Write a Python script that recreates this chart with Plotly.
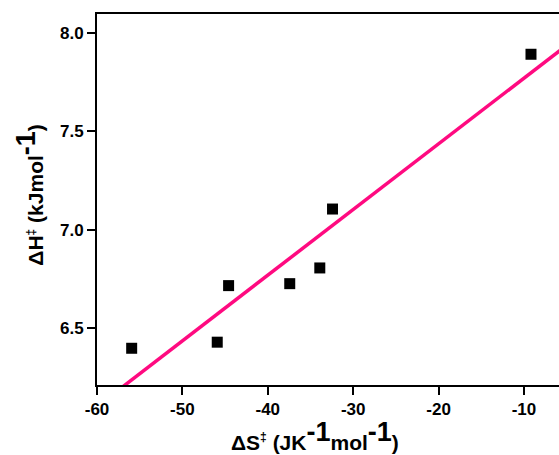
import numpy as np
import plotly.graph_objects as go

dS = [-55.94, -45.92, -44.59, -37.43, -33.91, -32.42, -9.18]
dH = [6.396, 6.427, 6.715, 6.725, 6.805, 7.105, 7.893]

x_ticks = [-60, -50, -40, -30, -20, -10]
y_ticks = [6.5, 7.0, 7.5, 8.0]

slope, intercept = np.polyfit(dS, dH, 1)
fit_x = np.array([-60.0, -5.0])
fit_y = slope * fit_x + intercept

fig = go.Figure()
fig.add_trace(go.Scatter(x=fit_x, y=fit_y, mode="lines",
                         line=dict(color="#FF0A80", width=3.5), showlegend=False))
fig.add_trace(go.Scatter(x=dS, y=dH, mode="markers",
                         marker=dict(symbol="square", size=11, color="black"),
                         showlegend=False))

fnt = dict(family="Liberation Sans, Arial, sans-serif", color="black")
dag = "<sup><span style='font-size:12px'>‡</span></sup>"
m1 = "<sup><span style='font-size:27px'>-1</span></sup>"
fig.update_layout(
    width=559, height=455,
    margin=dict(l=97, r=0, t=14, b=70),
    paper_bgcolor="white", plot_bgcolor="white",
    font=fnt,
    annotations=[
        dict(text=f"<b>ΔS{dag} (JK{m1}mol{m1})</b>", xref="paper", yref="paper",
             x=0.472, y=-0.08, xanchor="center", yanchor="top", showarrow=False,
             font=dict(size=21, **fnt)),
        dict(text=f"<b>ΔH{dag} (kJmol{m1})</b>", xref="paper", yref="paper",
             x=-0.148, y=0.512, xanchor="center", yanchor="middle", showarrow=False,
             textangle=-90, font=dict(size=21, **fnt)),
    ],
)
fig.update_xaxes(
    range=[-60, -5.9], tickvals=x_ticks, ticktext=[f"<b>{v}</b>" for v in x_ticks],
    showgrid=False, zeroline=False, showline=True, linecolor="black", linewidth=2,
    mirror=True, ticks="outside", ticklen=8, tickwidth=2, tickcolor="black",
    tickfont=dict(size=17, **fnt),
)
fig.update_yaxes(
    range=[6.209, 8.098], tickvals=y_ticks, ticktext=[f"<b>{v:.1f}</b>" for v in y_ticks],
    showgrid=False, zeroline=False, showline=True, linecolor="black", linewidth=2,
    mirror=False, ticks="outside", ticklen=8, tickwidth=2, tickcolor="black",
    tickfont=dict(size=17, **fnt),
)
fig.write_html("out.html")
